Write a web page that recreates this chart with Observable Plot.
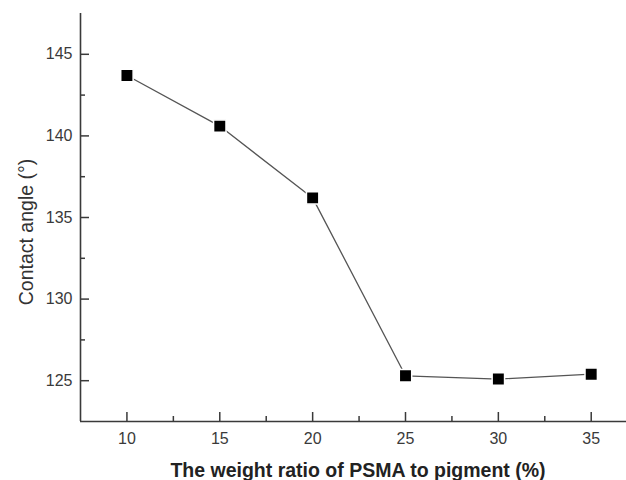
<!DOCTYPE html>
<html>
<head>
<meta charset="utf-8">
<script src="https://cdn.jsdelivr.net/npm/d3@7"></script>
<script src="https://cdn.jsdelivr.net/npm/@observablehq/plot@0.6"></script>
<style>
  body { margin: 0; background: #fff; }
  #chart { position: relative; width: 626px; height: 480px; }
</style>
</head>
<body>
<div id="chart"></div>
<script>
const ratios = [10, 15, 20, 25, 30, 35];
const angles = [143.7, 140.6, 136.2, 125.3, 125.1, 125.4];
const xTicks = [10, 15, 20, 25, 30, 35];
const xMinor = [12.5, 17.5, 22.5, 27.5, 32.5];
const yTicks = [125, 130, 135, 140, 145];
const yMinor = [127.5, 132.5, 137.5, 142.5];
const xTitle = "The weight ratio of PSMA to pigment (%)";
const yTitle = "Contact angle (°)";

const data = ratios.map((r, i) => ({ratio: r, angle: angles[i]}));
const xDomain = [7.5, 36.9];
const yDomain = [122.5, 147.5];
const axisColor = "#3a3a3a";

const chart = Plot.plot({
  width: 626,
  height: 480,
  marginLeft: 80,
  marginRight: 0,
  marginTop: 13,
  marginBottom: 59,
  style: {fontFamily: "'Liberation Sans', Arial, sans-serif", fontSize: "16px", color: "#333", background: "#fff"},
  x: {domain: xDomain},
  y: {domain: yDomain},
  marks: [
    Plot.axisX({ticks: xTicks, tickSize: 0, tickPadding: 11, label: null, fill: "#3a3a3a", fontSize: 16}),
    Plot.axisY({ticks: yTicks, tickSize: 0, tickPadding: 8, label: null, fill: "#3a3a3a", fontSize: 16}),
    Plot.axisX({ticks: xTicks, tickSize: -9, tickFormat: () => "", label: null, stroke: axisColor, strokeWidth: 1.5}),
    Plot.axisY({ticks: yTicks, tickSize: -9, tickFormat: () => "", label: null, stroke: axisColor, strokeWidth: 1.5}),
    Plot.axisX({ticks: xMinor, tickSize: -5, tickFormat: () => "", label: null, stroke: axisColor, strokeWidth: 1.5}),
    Plot.axisY({ticks: yMinor, tickSize: -5, tickFormat: () => "", label: null, stroke: axisColor, strokeWidth: 1.5}),
    Plot.ruleX([xDomain[0]], {stroke: axisColor, strokeWidth: 1.6}),
    Plot.ruleY([yDomain[0]], {stroke: axisColor, strokeWidth: 1.6}),
    Plot.line(data, {x: "ratio", y: "angle", stroke: "#555", strokeWidth: 1.3}),
    Plot.dot(data, {x: "ratio", y: "angle", symbol: "square", r: 7, fill: "#000", stroke: "#fff", strokeWidth: 1.5})
  ]
});

const container = document.getElementById("chart");
container.appendChild(chart);

const svg = d3.select(chart);
svg.append("text")
  .attr("x", 358).attr("y", 477)
  .attr("text-anchor", "middle")
  .attr("font-family", "'Liberation Sans', Arial, sans-serif")
  .attr("font-size", 19.5).attr("font-weight", "bold").attr("fill", "#222")
  .text(xTitle);
svg.append("text")
  .attr("transform", "translate(33,232) rotate(-90)")
  .attr("text-anchor", "middle")
  .attr("font-family", "'Liberation Sans', Arial, sans-serif")
  .attr("font-size", 19.5).attr("fill", "#333")
  .text(yTitle);
</script>
</body>
</html>
